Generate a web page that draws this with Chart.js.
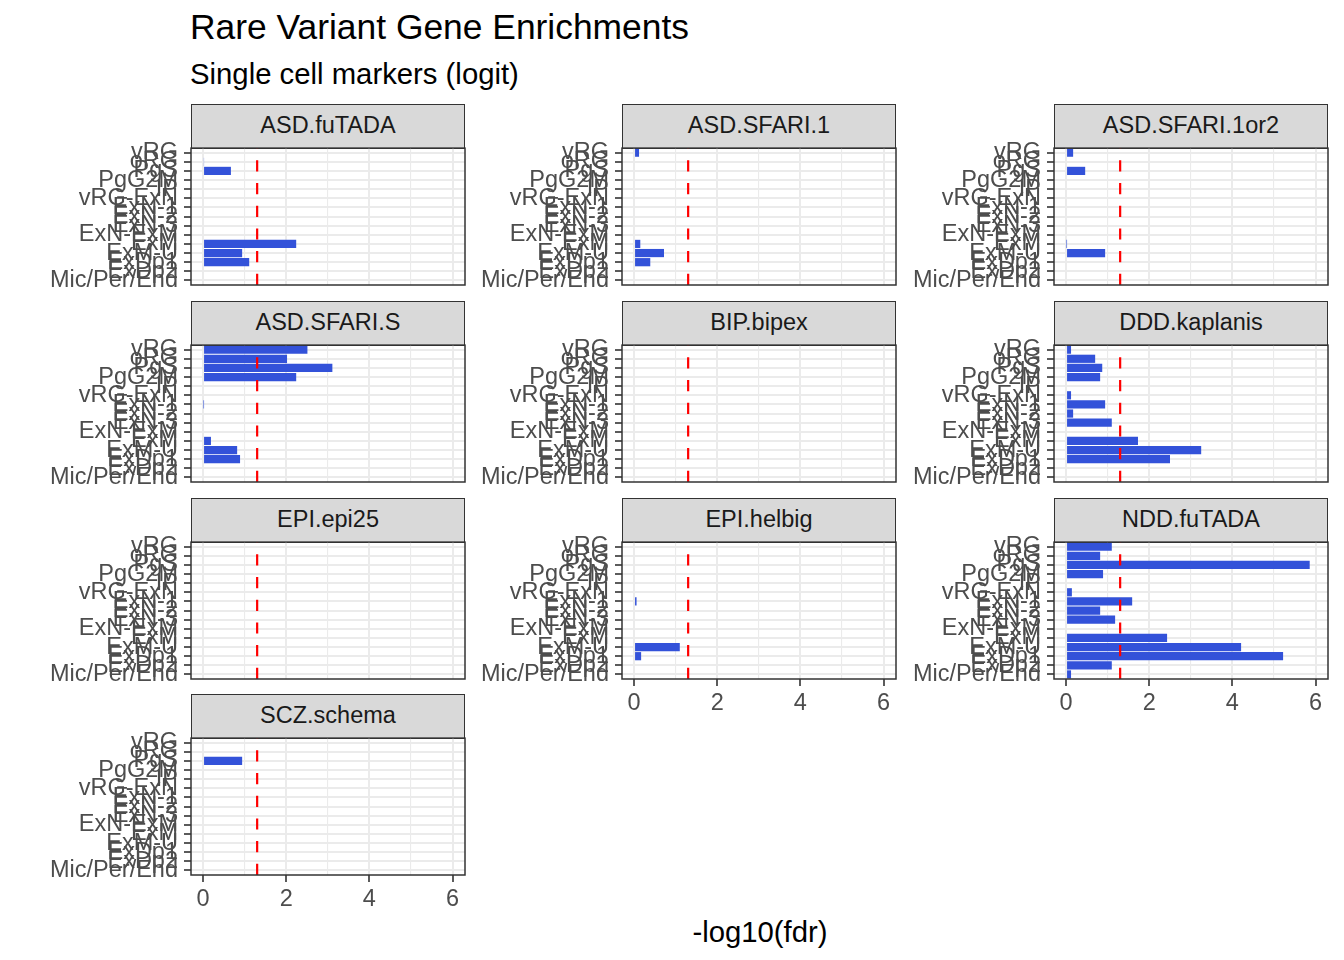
<!DOCTYPE html>
<html>
<head>
<meta charset="utf-8">
<script src="https://cdn.jsdelivr.net/npm/chart.js@4.4.1/dist/chart.umd.min.js"></script>
<style>
body { margin: 0; background: #fff; font-family: "Liberation Sans", Arial, sans-serif; }
#page { position: relative; width: 1344px; height: 960px; overflow: hidden; }
.strip { position: absolute; box-sizing: border-box; background: #d9d9d9; border: 1.5px solid #333;
         color: #1a1a1a; font-size: 23.5px; text-align: center; line-height: 41px; }
canvas { position: absolute; }
.txt { position: absolute; white-space: nowrap; line-height: 1; color: #000; }
</style>
</head>
<body>
<div id="page">
  <div class="txt" style="left:190px; top:10px; font-size:35.4px;">Rare Variant Gene Enrichments</div>
  <div class="txt" style="left:190px; top:59px; font-size:29.3px;">Single cell markers (logit)</div>
  <div class="txt" style="left:760px; top:917px; font-size:29.3px; transform:translateX(-50%);">-log10(fdr)</div>
</div>
<script>
// cell types, top to bottom
const cellTypes = ['vRG', 'oRG', 'PgS', 'PgG2M', 'IP', 'vRG-ExN', 'ExN-1', 'ExN-2', 'ExN-3',
                   'ExN-ExM', 'ExM', 'ExM-U', 'ExDp1', 'ExDp2', 'Mic/Per/End'];

const traitNames = ['ASD.fuTADA', 'ASD.SFARI.1', 'ASD.SFARI.1or2', 'ASD.SFARI.S', 'BIP.bipex',
                    'DDD.kaplanis', 'EPI.epi25', 'EPI.helbig', 'NDD.fuTADA', 'SCZ.schema'];

// -log10(fdr) per cell type
const asdFuTADA    = [0, 0.02, 0.67, 0, 0, 0, 0, 0, 0, 0, 2.24, 0.94, 1.11, 0, 0];
const asdSfari1    = [0.12, 0, 0, 0, 0, 0, 0, 0, 0, 0, 0.15, 0.72, 0.39, 0, 0];
const asdSfari1or2 = [0.17, 0, 0.46, 0, 0, 0, 0, 0, 0, 0, 0.01, 0.94, 0, 0, 0];
const asdSfariS    = [2.51, 2.02, 3.11, 2.24, 0, 0, 0.01, 0, 0, 0, 0.19, 0.82, 0.89, 0, 0];
const bipBipex     = [0, 0, 0, 0, 0, 0, 0, 0, 0, 0, 0, 0, 0, 0, 0];
const dddKaplanis  = [0.12, 0.70, 0.87, 0.82, 0, 0.12, 0.94, 0.17, 1.10, 0, 1.73, 3.25, 2.50, 0, 0];
const epiEpi25     = [0, 0, 0, 0, 0, 0, 0, 0, 0, 0, 0, 0, 0, 0, 0];
const epiHelbig    = [0, 0, 0, 0, 0, 0, 0.06, 0, 0, 0, 0, 1.10, 0.17, 0, 0];
const nddFuTADA    = [1.10, 0.82, 5.86, 0.89, 0, 0.14, 1.59, 0.82, 1.18, 0, 2.43, 4.21, 5.22, 1.10, 0.12];
const sczSchema    = [0, 0, 0.94, 0, 0, 0, 0, 0, 0, 0, 0, 0, 0, 0, 0];

const traitValues = [asdFuTADA, asdSfari1, asdSfari1or2, asdSfariS, bipBipex,
                     dddKaplanis, epiEpi25, epiHelbig, nddFuTADA, sczSchema];

const xTicks = [0, 1, 2, 3, 4, 5, 6];   // odd ones are minor grid only
const fdrCut = 1.301;                     // -log10(0.05)

// panel geometry
const panelLeft = [191, 622, 1054];
const panelTop = [148, 345, 542, 738];
const panelW = 274, panelH = 137;
const padTop = 20, axisW = 160, axisH = 40, padRight = 10;
const font = '"Liberation Sans", Arial, sans-serif';

const panelDeco = {
    id: 'panelDeco',
    afterDatasetsDraw(chart) {
        const ctx = chart.ctx;
        const a = chart.chartArea;
        const xv = chart.scales.x.getPixelForValue(fdrCut);
        ctx.save();
        ctx.strokeStyle = '#ff0000';
        ctx.lineWidth = 2.2;
        ctx.setLineDash([11.2, 11.5]);
        ctx.beginPath();
        ctx.moveTo(xv, a.bottom);
        ctx.lineTo(xv, a.top);
        ctx.stroke();
        ctx.setLineDash([]);
        ctx.strokeStyle = '#333333';
        ctx.lineWidth = 1.5;
        ctx.strokeRect(a.left, a.top, a.right - a.left, a.bottom - a.top);
        ctx.restore();
    }
};

const page = document.getElementById('page');

traitNames.forEach((name, i) => {
    const col = i % 3, row = Math.floor(i / 3);
    const left = panelLeft[col], top = panelTop[row];
    const showX = i >= traitNames.length - 3;

    const strip = document.createElement('div');
    strip.className = 'strip';
    strip.style.left = left + 'px';
    strip.style.top = (top - 44) + 'px';
    strip.style.width = panelW + 'px';
    strip.style.height = '45px';
    strip.textContent = name;
    page.appendChild(strip);

    const cv = document.createElement('canvas');
    cv.width = axisW + panelW + padRight;
    cv.height = padTop + panelH + axisH;
    cv.style.left = (left - axisW) + 'px';
    cv.style.top = (top - padTop) + 'px';
    page.appendChild(cv);

    new Chart(cv, {
        type: 'bar',
        data: {
            labels: cellTypes,
            datasets: [{
                data: traitValues[i],
                backgroundColor: '#3352d9',
                borderWidth: 0,
                barPercentage: 0.9,
                categoryPercentage: 1.0
            }]
        },
        options: {
            indexAxis: 'y',
            responsive: false,
            animation: false,
            layout: { padding: { top: padTop, right: padRight, left: 0, bottom: 0 } },
            plugins: { legend: { display: false }, tooltip: { enabled: false } },
            scales: {
                y: {
                    type: 'category',
                    offset: true,
                    afterFit: s => { s.width = axisW; },
                    border: { display: false },
                    grid: { offset: false, color: '#ebebeb', lineWidth: 2,
                            tickColor: '#333333', tickLength: 7, tickWidth: 1.6 },
                    ticks: { autoSkip: false, padding: 6, color: '#4d4d4d',
                             font: { family: font, size: 23.5 } }
                },
                x: {
                    type: 'linear',
                    min: -0.29,
                    max: 6.3,
                    afterBuildTicks: s => { s.ticks = xTicks.map(v => ({ value: v })); },
                    afterFit: s => { s.height = axisH; },
                    border: { display: false },
                    grid: {
                        color: '#ebebeb',
                        lineWidth: c => (c.tick && c.tick.value % 2 === 0) ? 2 : 1.1,
                        drawTicks: showX,
                        tickLength: 7,
                        tickWidth: 1.6,
                        tickColor: c => (c.tick && c.tick.value % 2 === 0) ? '#333333' : 'rgba(0,0,0,0)'
                    },
                    ticks: {
                        display: showX,
                        autoSkip: false,
                        maxRotation: 0,
                        padding: 3,
                        color: '#4d4d4d',
                        font: { family: font, size: 23.5 },
                        callback: v => (v % 2 === 0 ? String(v) : '')
                    }
                }
            }
        },
        plugins: [panelDeco]
    });
});
</script>
</body>
</html>
